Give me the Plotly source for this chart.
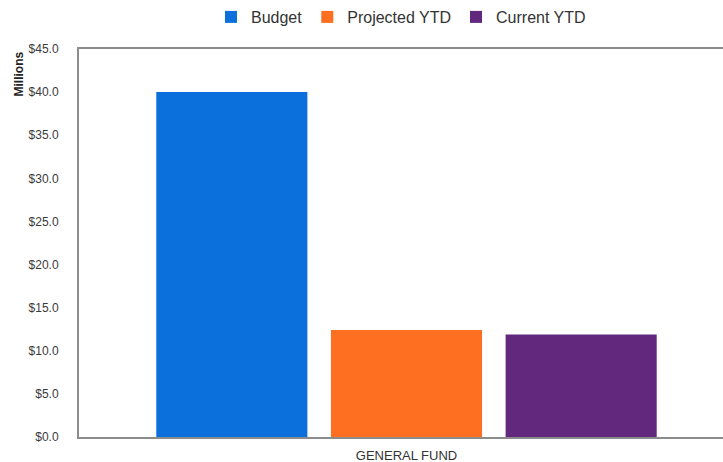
import plotly.graph_objects as go

# Fund budget vs. year-to-date figures, in millions of dollars
categories = ["GENERAL FUND"]
series_names = ["Budget", "Projected YTD", "Current YTD"]
series_values = [[40.0], [12.4], [11.9]]
series_colors = ["#0b6fdc", "#ff6f22", "#62287e"]
y_ticks = [0, 5, 10, 15, 20, 25, 30, 35, 40, 45]
y_tick_labels = [f"${v:.1f}" for v in y_ticks]

fig = go.Figure()
for name, vals, color in zip(series_names, series_values, series_colors):
    fig.add_trace(go.Bar(
        name=name, x=categories, y=vals,
        marker=dict(color=color, line=dict(width=0)),
    ))

fig.update_layout(
    width=723, height=462,
    margin=dict(l=79, r=0, t=49, b=25),
    paper_bgcolor="white", plot_bgcolor="white",
    font=dict(family="Liberation Sans, Arial, sans-serif", color="#404040", size=11),
    barmode="group", bargap=0.2, bargroupgap=0.135,
    showlegend=True,
    legend=dict(
        orientation="h", x=0.5, xanchor="center", y=1.0, yanchor="top",
        yref="container", font=dict(size=16, color="#333333"),
        itemwidth=30, tracegroupgap=0,
    ),
    xaxis=dict(
        range=[-0.5, -0.5 + 644 / 655],
        showline=True, linecolor="#8c8c8c", linewidth=2, mirror=True,
        showgrid=False, ticks="", ticklabelstandoff=5,
        tickfont=dict(size=13, color="#333333"),
    ),
    yaxis=dict(
        range=[0, 45], tickmode="array", tickvals=y_ticks, ticktext=y_tick_labels,
        showline=True, linecolor="#8c8c8c", linewidth=2, mirror=False,
        showgrid=False, zeroline=False, ticks="", ticklabelstandoff=16,
        tickfont=dict(size=12, color="#3a3a3a"),
    ),
    annotations=[dict(
        text="<b>Millions</b>", textangle=-90, xref="paper", yref="paper",
        x=0, y=1, xanchor="center", yanchor="top", xshift=-61, yshift=-1,
        showarrow=False, font=dict(size=12, color="#222222"),
    )],
)

fig.write_html("out.html")
